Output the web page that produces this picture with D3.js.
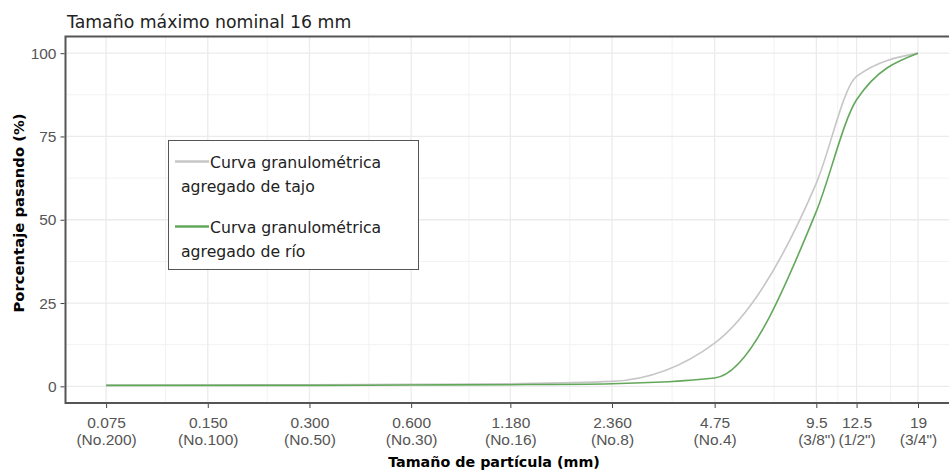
<!DOCTYPE html>
<html>
  <head lang="es">
    <meta charset="utf-8">
    <title>Curva granulométrica</title>
    <script type="text/javascript" src="https://cdn.jsdelivr.net/npm/d3@7"></script>
    <style>
      body { margin: 0; background: #fff; }
    </style>
  </head>
  <body>
    <script type="text/javascript">

      // tamices (mm) y su nombre
      var sizes = [0.075, 0.150, 0.300, 0.600, 1.180, 2.360, 4.75, 9.5, 12.5, 19];
      var sizeLabels = ["0.075", "0.150", "0.300", "0.600", "1.180", "2.360", "4.75", "9.5", "12.5", "19"];
      var sieveLabels = ["(No.200)", "(No.100)", "(No.50)", "(No.30)", "(No.16)", "(No.8)", "(No.4)", "(3/8\")", "(1/2\")", "(3/4\")"];

      // porcentaje que pasa
      var tajo = [0.3, 0.4, 0.5, 0.6, 0.8, 1.5, 13, 61, 93, 100];
      var rio = [0.3, 0.3, 0.3, 0.4, 0.5, 0.8, 2.5, 52.5, 86, 100];

      var yTicks = [0, 25, 50, 75, 100];
      var yMinor = [12.5, 37.5, 62.5, 87.5];

      var seriesNames = ["Curva granulométrica\nagregado de tajo", "Curva granulométrica\nagregado de río"];
      var seriesColors = ["#c6c6c6", "#62a85b"];

      var width = 949, height = 470;
      var panel = {left: 65.5, top: 36.5, bottom: 403};

      var svg = d3.select("body")
                  .append("svg")
                  .attr("width", width)
                  .attr("height", height);

      // escala log con 5% de expansion, como ggplot
      var lo = Math.log10(d3.min(sizes)), hi = Math.log10(d3.max(sizes));
      var pad = (hi - lo) * 0.05;
      var x = d3.scaleLog()
                .domain([Math.pow(10, lo - pad), Math.pow(10, hi + pad)])
                .range([panel.left, 958.6]);

      var y = d3.scaleLinear()
                .domain([-5, 105])
                .range([panel.bottom, panel.top]);

      // lineas de division menores: punto medio entre tamices
      var xMinor = d3.pairs(sizes).map(function(p) { return (p[0] + p[1]) / 2; });

      var grid = svg.append("g");
      grid.selectAll(".vminor").data(xMinor).enter().append("line")
          .attr("x1", function(d) { return x(d); }).attr("x2", function(d) { return x(d); })
          .attr("y1", panel.top).attr("y2", panel.bottom)
          .attr("stroke", "#f2f2f2").attr("stroke-width", 1);
      grid.selectAll(".hminor").data(yMinor).enter().append("line")
          .attr("x1", panel.left).attr("x2", width)
          .attr("y1", function(d) { return y(d); }).attr("y2", function(d) { return y(d); })
          .attr("stroke", "#f2f2f2").attr("stroke-width", 1);
      grid.selectAll(".vmajor").data(sizes).enter().append("line")
          .attr("x1", function(d) { return x(d); }).attr("x2", function(d) { return x(d); })
          .attr("y1", panel.top).attr("y2", panel.bottom)
          .attr("stroke", "#ebebeb").attr("stroke-width", 1.3);
      grid.selectAll(".hmajor").data(yTicks).enter().append("line")
          .attr("x1", panel.left).attr("x2", width)
          .attr("y1", function(d) { return y(d); }).attr("y2", function(d) { return y(d); })
          .attr("stroke", "#ebebeb").attr("stroke-width", 1.3);

      // curvas
      var line = d3.line()
                   .x(function(d) { return x(d[0]); })
                   .y(function(d) { return y(d[1]); })
                   .curve(d3.curveMonotoneX);

      [tajo, rio].forEach(function(vals, i) {
        svg.append("path")
           .datum(sizes.map(function(s, j) { return [s, vals[j]]; }))
           .attr("fill", "none")
           .attr("stroke", seriesColors[i])
           .attr("stroke-width", 1.6)
           .attr("d", line);
      });

      // borde del panel
      svg.append("path")
         .attr("d", "M" + width + "," + panel.top + "H" + panel.left + "V" + panel.bottom + "H" + width)
         .attr("fill", "none")
         .attr("stroke", "#555")
         .attr("stroke-width", 2);

      // eje x
      var xAxis = svg.append("g")
                     .attr("transform", "translate(0," + (panel.bottom + 1) + ")")
                     .call(d3.axisBottom(x).tickValues(sizes).tickSize(4).tickFormat(""));
      xAxis.select(".domain").remove();
      xAxis.selectAll(".tick line").attr("stroke", "#444");
      xAxis.selectAll(".tick").each(function(d, i) {
        var t = d3.select(this).append("text")
                  .attr("fill", "#555")
                  .attr("text-anchor", "middle")
                  .style("font-family", "Liberation Sans, Arial, sans-serif")
                  .style("font-size", "15.5px");
        t.append("tspan").attr("x", 0).attr("y", 23.5).text(sizeLabels[i]);
        t.append("tspan").attr("x", 0).attr("y", 40.5).text(sieveLabels[i]);
      });

      // eje y
      var yAxis = svg.append("g")
                     .attr("transform", "translate(" + (panel.left - 1) + ",0)")
                     .call(d3.axisLeft(y).tickValues(yTicks).tickSize(4));
      yAxis.select(".domain").remove();
      yAxis.selectAll(".tick line").attr("stroke", "#444");
      yAxis.selectAll(".tick text")
           .attr("fill", "#555")
           .attr("x", -8)
           .style("font-family", "Liberation Sans, Arial, sans-serif")
           .style("font-size", "15.5px");

      // titulos
      svg.append("text")
         .attr("x", 67).attr("y", 28)
         .style("font-family", "DejaVu Sans, sans-serif")
         .style("font-size", "17.3px")
         .attr("fill", "#222")
         .text("Tamaño máximo nominal 16 mm");

      svg.append("text")
         .attr("x", 494).attr("y", 467)
         .attr("text-anchor", "middle")
         .style("font-family", "DejaVu Sans, sans-serif")
         .style("font-size", "14.3px")
         .style("font-weight", "bold")
         .text("Tamaño de partícula (mm)");

      svg.append("text")
         .attr("transform", "translate(24,213) rotate(-90)")
         .attr("text-anchor", "middle")
         .style("font-family", "DejaVu Sans, sans-serif")
         .style("font-size", "14.8px")
         .style("font-weight", "bold")
         .text("Porcentaje pasando (%)");

      // leyenda
      var legend = svg.append("g");
      legend.append("rect")
            .attr("x", 168.5).attr("y", 140.5)
            .attr("width", 250).attr("height", 129)
            .attr("fill", "#fff")
            .attr("stroke", "#555")
            .attr("stroke-width", 1);

      seriesNames.forEach(function(name, i) {
        var ky = 161.5 + i * 65;
        legend.append("line")
              .attr("x1", 175).attr("x2", 209)
              .attr("y1", ky).attr("y2", ky)
              .attr("stroke", seriesColors[i])
              .attr("stroke-width", 2.5);
        var parts = name.split("\n");
        legend.append("text")
              .attr("x", 210).attr("y", ky + 6)
              .style("font-family", "DejaVu Sans, sans-serif")
              .style("font-size", "15.7px")
              .attr("fill", "#222")
              .text(parts[0]);
        legend.append("text")
              .attr("x", 181).attr("y", ky + 30)
              .style("font-family", "DejaVu Sans, sans-serif")
              .style("font-size", "15.7px")
              .attr("fill", "#222")
              .text(parts[1]);
      });
    </script>
  </body>
</html>
